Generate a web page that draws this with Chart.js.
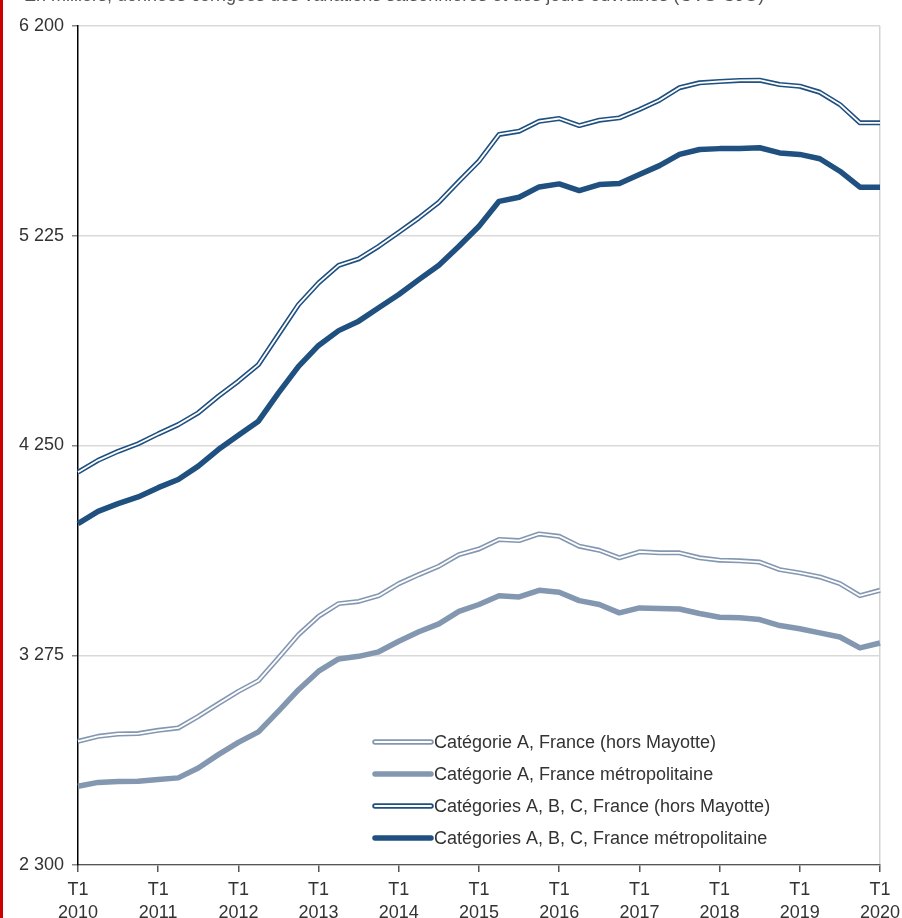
<!DOCTYPE html>
<html><head><meta charset="utf-8">
<script src="https://cdn.jsdelivr.net/npm/chart.js@4.4.1/dist/chart.umd.min.js"></script>
<style>html,body{margin:0;padding:0;background:#fff;overflow:hidden}#wrap{position:relative;width:902px;height:918px}</style>
</head><body><div id="wrap"><canvas id="c" width="902" height="918"></canvas></div>
<script>
const titleText = "En milliers, données corrigées des variations saisonnières et des jours ouvrables (CVS-CJO)";
const years = ['2010','2011','2012','2013','2014','2015','2016','2017','2018','2019','2020'];
const quarterNames = ['T1','T2','T3','T4'];
const categories = [];
years.forEach((y, yi) => quarterNames.forEach(q => { if (yi < years.length - 1 || q === 'T1') categories.push(q + ' ' + y); }));
const yTicks = [2300, 3275, 4250, 5225, 6200];

const seriesNames = [
  'Catégorie A, France (hors Mayotte)',
  'Catégorie A, France métropolitaine',
  'Catégories A, B, C, France (hors Mayotte)',
  'Catégories A, B, C, France métropolitaine'
];
const catA_France = [2875,2898,2909,2911,2926,2937,2991,3050,3107,3157,3263,3371,3456,3515,3525,3552,3608,3650,3689,3743,3769,3813,3808,3839,3828,3782,3763,3728,3756,3751,3751,3728,3717,3714,3708,3673,3658,3639,3608,3552,3577];
const catA_Metro = [2666,2684,2688,2689,2697,2705,2751,2813,2870,2919,3015,3115,3201,3258,3270,3291,3340,3384,3421,3479,3511,3552,3546,3577,3568,3529,3511,3472,3495,3492,3490,3469,3452,3449,3441,3413,3398,3379,3360,3309,3332];
const catABC_France = [4126,4181,4223,4258,4304,4347,4402,4479,4549,4626,4766,4905,5006,5087,5118,5176,5241,5308,5381,5478,5572,5696,5711,5757,5770,5737,5762,5773,5812,5855,5913,5936,5942,5947,5948,5928,5920,5892,5835,5750,5750];
const catABC_Metro = [3887,3944,3980,4011,4054,4092,4154,4231,4298,4363,4495,4618,4715,4784,4828,4890,4952,5021,5088,5176,5269,5385,5404,5452,5466,5435,5463,5468,5510,5551,5603,5626,5630,5631,5634,5610,5603,5583,5525,5451,5451];

const FONT = '"Liberation Sans", Arial, sans-serif';
const LIGHT = '#8497b1';
const DARK = '#1f5080';

const styles = [
  {color: LIGHT, double: true},
  {color: LIGHT, double: false},
  {color: DARK, double: true},
  {color: DARK, double: false}
];
const seriesData = [catA_France, catA_Metro, catABC_France, catABC_Metro];

const datasets = seriesData.map((d, i) => ({
  label: seriesNames[i],
  data: d,
  borderColor: styles[i].color,
  backgroundColor: styles[i].color,
  borderWidth: styles[i].double ? 5 : 5.5,
  pointRadius: 0,
  pointHoverRadius: 0,
  tension: 0,
  fill: false,
  borderJoinStyle: 'round',
  borderCapStyle: 'butt',
  isDouble: styles[i].double
}));

const fmt = v => String(v).replace(/\B(?=(\d{3})+(?!\d))/g, ' ');

const customPlugin = {
  id: 'custom',
  afterDatasetsDraw(chart) {
    const ctx = chart.ctx;
    chart.data.datasets.forEach((ds, i) => {
      if (!ds.isDouble) return;
      const pts = chart.getDatasetMeta(i).data;
      ctx.save();
      ctx.beginPath();
      pts.forEach((p, k) => k ? ctx.lineTo(p.x, p.y) : ctx.moveTo(p.x, p.y));
      ctx.strokeStyle = '#ffffff';
      ctx.lineWidth = 1.8;
      ctx.lineJoin = 'round';
      ctx.stroke();
      ctx.restore();
    });
    // legend
    const x0 = 375, x1 = 431, tx = 434, y0 = 742, dy = 32;
    chart.data.datasets.forEach((ds, i) => {
      const y = y0 + i * dy;
      ctx.save();
      ctx.lineCap = 'round';
      ctx.beginPath(); ctx.moveTo(x0, y); ctx.lineTo(x1, y);
      ctx.strokeStyle = ds.borderColor; ctx.lineWidth = 5.5; ctx.stroke();
      if (ds.isDouble) {
        ctx.beginPath(); ctx.moveTo(x0, y); ctx.lineTo(x1, y);
        ctx.strokeStyle = '#fff'; ctx.lineWidth = 1.8; ctx.stroke();
      }
      ctx.fillStyle = '#333';
      ctx.font = '18px ' + FONT;
      ctx.textBaseline = 'middle';
      ctx.textAlign = 'left';
      ctx.fillText(ds.label, tx, y + 1);
      ctx.restore();
    });
  },
  afterDraw(chart) {
    const ctx = chart.ctx;
    ctx.save();
    ctx.fillStyle = '#555';
    ctx.font = '18px ' + FONT;
    ctx.textBaseline = 'alphabetic';
    ctx.textAlign = 'left';
    ctx.fillText(titleText, 24, 1);
    ctx.fillStyle = '#cc0000';
    ctx.fillRect(0, 0, 3, 918);
    ctx.restore();
  }
};

new Chart(document.getElementById('c'), {
  type: 'line',
  data: { labels: categories, datasets },
  options: {
    responsive: false,
    animation: false,
    events: [],
    layout: { padding: { top: 26, right: 22, left: 0, bottom: 0 } },
    plugins: { legend: { display: false }, tooltip: { enabled: false }, title: { display: false } },
    scales: {
      x: {
        type: 'category',
        offset: false,
        afterFit: s => { s.height = 53; s.paddingLeft = 0; s.paddingRight = 0; },
        border: { color: '#555', width: 1.2 },
        grid: {
          color: c => (c.index === categories.length - 1 ? '#d4d4d4' : 'rgba(0,0,0,0)'),
          tickColor: c => (c.index % 4 === 0 ? '#555' : 'rgba(0,0,0,0)'),
          tickLength: 7,
          lineWidth: 1.5
        },
        ticks: {
          autoSkip: false, maxRotation: 0, minRotation: 0, padding: 6,
          color: '#333', font: { size: 18, family: FONT, lineHeight: 1.3 },
          callback: (v, i) => (i % 4 === 0 ? categories[i].split(' ') : '')
        }
      },
      y: {
        min: yTicks[0], max: yTicks[yTicks.length - 1],
        afterFit: s => { s.width = 78; s.paddingTop = 0; s.paddingBottom = 0; },
        afterBuildTicks: s => { s.ticks = yTicks.map(v => ({ value: v })); },
        border: { color: '#000', width: 1.5 },
        grid: { color: '#d9d9d9', lineWidth: 1.5, tickColor: '#888', tickLength: 6 },
        ticks: { padding: 8, color: '#333', font: { size: 18, family: FONT }, callback: v => fmt(v) }
      }
    }
  },
  plugins: [customPlugin]
});
</script></body></html>
